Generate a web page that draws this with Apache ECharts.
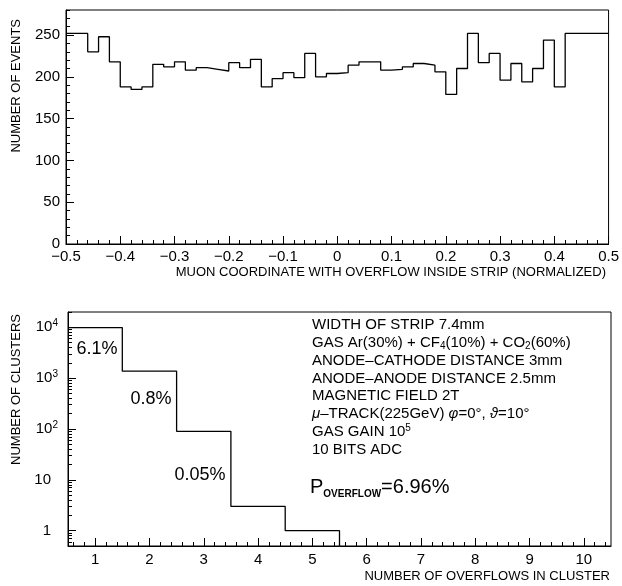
<!DOCTYPE html>
<html><head><meta charset="utf-8">
<script src="https://cdn.jsdelivr.net/npm/echarts@6/dist/echarts.min.js"></script>
<style>html,body{margin:0;padding:0;background:#fff}#c{width:622px;height:586px}</style>
</head><body><div id="c"></div>
<script>
// ---- Top panel: muon coordinate with overflow inside strip (bin width 0.02) ----
const topBinEdges = [-0.50,-0.48,-0.46,-0.44,-0.42,-0.40,-0.38,-0.36,-0.34,-0.32,
  -0.30,-0.28,-0.26,-0.24,-0.22,-0.20,-0.18,-0.16,-0.14,-0.12,
  -0.10,-0.08,-0.06,-0.04,-0.02,0.00,0.02,0.04,0.06,0.08,
  0.10,0.12,0.14,0.16,0.18,0.20,0.22,0.24,0.26,0.28,
  0.30,0.32,0.34,0.36,0.38,0.40,0.42,0.44,0.46,0.48];
const topCounts = [252,252,230,248,218,188,185,188,215,212,
  218,208,211,209,207,217,211,221,188,198,
  205,199,228,200,204,205,214,218,218,208,
  209,212,216,214,206,179,210,252,217,228,
  196,216,194,210,244,188,252,252,252,252];
const topXEnd = 0.5;
const topYTicks = [0,50,100,150,200,250];

// ---- Bottom panel: number of overflows in cluster ----
const bottomBinEdges = [0.5,1.5,2.5,3.5,4.5];
const bottomCounts = [9900,1370,90,3,1];
const bottomXEnd = 5.5;
const bottomXTicks = [1,2,3,4,5,6,7,8,9,10];
const bottomXMinorTicks = [0.6,0.8,1.2,1.4,1.6,1.8,2.2,2.4,2.6,2.8,3.2,3.4,3.6,3.8,4.2,4.4,4.6,4.8,
  5.2,5.4,5.6,5.8,6.2,6.4,6.6,6.8,7.2,7.4,7.6,7.8,8.2,8.4,8.6,8.8,9.2,9.4,9.6,9.8,10.2,10.4];
const bottomYTicks = [1,10,100,1000,10000];
const bottomYMinorTicks = [0.6,0.7,0.8,0.9,2,3,4,5,6,7,8,9,20,30,40,50,60,70,80,90,
  200,300,400,500,600,700,800,900,2000,3000,4000,5000,6000,7000,8000,9000,20000];
const percentLabels = ['6.1%','0.8%','0.05%'];
const infoLines = [
  'WIDTH OF STRIP 7.4mm',
  'GAS Ar(30%) + CF{sub|4}(10%) + CO{sub|2}(60%)',
  'ANODE\u2013CATHODE DISTANCE 3mm',
  'ANODE\u2013ANODE DISTANCE 2.5mm',
  'MAGNETIC FIELD 2T',
  '{it|\u03bc}\u2013TRACK(225GeV) {it|\u03c6}=0\u00b0, {it|\u03d1}=10\u00b0',
  'GAS GAIN 10{sup|5}',
  '10 BITS ADC'
];
const overflowText = '{P|P}{sub|OVERFLOW}{P|=6.96%}';
const topXTitle = 'MUON COORDINATE WITH OVERFLOW INSIDE STRIP (NORMALIZED)';
const bottomXTitle = 'NUMBER OF OVERFLOWS IN CLUSTER';
const topYTitle = 'NUMBER OF EVENTS';
const bottomYTitle = 'NUMBER OF CLUSTERS';

const FONT = '"Liberation Sans", Arial, Helvetica, sans-serif';
const BLACK = '#000';

const topData = topBinEdges.map((e, i) => [e, topCounts[i]]).concat([[topXEnd, topCounts[topCounts.length - 1]]]);
const bottomYMin = 0.5;
const bottomData = bottomBinEdges.map((e, i) => [e, bottomCounts[i]])
  .concat([[bottomXEnd, bottomCounts[bottomCounts.length - 1]], [bottomXEnd, bottomYMin]]);

function fmtX(v) {
  const r = Math.round(v * 10) / 10;
  if (r === 0) return '0';
  return (r < 0 ? '\u2212' : '') + Math.abs(r).toString();
}

const axisLineStyle = { color: BLACK, width: 1 };
const baseLabel = { color: BLACK, fontSize: 15, fontFamily: FONT };

const chart = echarts.init(document.getElementById('c'), null, { renderer: 'canvas' });

const graphics = [];
// axis titles (right-justified to the axis end, PAW style)
graphics.push({ type: 'text', right: 16, top: 266, style: { text: topXTitle, fontSize: 13, fontFamily: FONT, fill: BLACK } });
graphics.push({ type: 'text', right: 12, top: 570, style: { text: bottomXTitle, fontSize: 13, fontFamily: FONT, fill: BLACK } });
graphics.push({ type: 'text', x: 16, y: 19, rotation: Math.PI / 2,
  style: { text: topYTitle, fontSize: 13, fontFamily: FONT, fill: BLACK, align: 'right', verticalAlign: 'middle' } });
graphics.push({ type: 'text', x: 16, y: 314, rotation: Math.PI / 2,
  style: { text: bottomYTitle, fontSize: 13, fontFamily: FONT, fill: BLACK, align: 'right', verticalAlign: 'middle' } });
// percent labels
const pctPos = [[97, 349], [151, 399], [200, 475]];
percentLabels.forEach((t, i) => {
  graphics.push({ type: 'text', x: pctPos[i][0], y: pctPos[i][1],
    style: { text: t, fontSize: 18, fontFamily: FONT, fill: BLACK, align: 'center', verticalAlign: 'middle' } });
});
// info block
infoLines.forEach((t, i) => {
  graphics.push({ type: 'text', x: 312, y: 325 + i * 17.8,
    style: { text: t, fontSize: 15, fontFamily: FONT, fill: BLACK, verticalAlign: 'middle',
      rich: {
        sub: { fontSize: 10, fontFamily: FONT, verticalAlign: 'bottom', lineHeight: 17 },
        sup: { fontSize: 10, fontFamily: FONT, verticalAlign: 'top', lineHeight: 17 },
        it: { fontSize: 15, fontStyle: 'italic', fontFamily: FONT, lineHeight: 17 }
      } } });
});
graphics.push({ type: 'text', x: 310, y: 487,
  style: { text: overflowText, fill: BLACK, verticalAlign: 'middle',
    rich: {
      P: { fontSize: 20, fontFamily: FONT, lineHeight: 24, verticalAlign: 'middle' },
      sub: { fontSize: 10, fontWeight: 'bold', fontFamily: FONT, lineHeight: 24, verticalAlign: 'bottom' }
    } } });

const option = {
  animation: false,
  backgroundColor: '#fff',
  grid: [
    { left: 66, top: 10, width: 544, height: 234, show: true, borderColor: BLACK, borderWidth: 1, backgroundColor: 'transparent' },
    { left: 68, top: 312, width: 543, height: 234, show: true, borderColor: BLACK, borderWidth: 1, backgroundColor: 'transparent' }
  ],
  xAxis: [
    { gridIndex: 0, type: 'value', position: 'bottom', min: -0.5, max: 0.5, interval: 0.1,
      axisLine: { onZero: false, lineStyle: axisLineStyle },
      axisTick: { inside: true, length: 8, lineStyle: axisLineStyle },
      axisLabel: Object.assign({}, baseLabel, { margin: 5, formatter: fmtX }),
      splitLine: { show: false } },
    { gridIndex: 0, type: 'value', position: 'bottom', min: -0.5, max: 0.5, interval: 0.02,
      axisLine: { show: false, onZero: false },
      axisTick: { inside: true, length: 4, lineStyle: axisLineStyle },
      axisLabel: { show: false }, splitLine: { show: false } },
    { gridIndex: 1, type: 'value', position: 'bottom', min: 0.5, max: 10.5,
      axisLine: { onZero: false, lineStyle: axisLineStyle },
      axisTick: { inside: true, length: 8, lineStyle: axisLineStyle, customValues: bottomXTicks },
      axisLabel: Object.assign({}, baseLabel, { margin: 6, customValues: bottomXTicks }),
      splitLine: { show: false } },
    { gridIndex: 1, type: 'value', position: 'bottom', min: 0.5, max: 10.5,
      axisLine: { show: false, onZero: false },
      axisTick: { inside: true, length: 4, lineStyle: axisLineStyle, customValues: bottomXMinorTicks },
      axisLabel: { show: false }, splitLine: { show: false } }
  ],
  yAxis: [
    { gridIndex: 0, type: 'value', position: 'left', min: 0, max: 280, interval: 50,
      axisLine: { onZero: false, lineStyle: axisLineStyle },
      axisTick: { inside: true, length: 8, lineStyle: axisLineStyle, customValues: topYTicks },
      axisLabel: Object.assign({}, baseLabel, { margin: 6, customValues: topYTicks }),
      splitLine: { show: false } },
    { gridIndex: 0, type: 'value', position: 'left', min: 0, max: 280, interval: 10,
      axisLine: { show: false, onZero: false },
      axisTick: { inside: true, length: 4, lineStyle: axisLineStyle },
      axisLabel: { show: false }, splitLine: { show: false } },
    { gridIndex: 1, type: 'log', logBase: 10, position: 'left', min: 0.5, max: 20000,
      axisLine: { onZero: false, lineStyle: axisLineStyle },
      axisTick: { inside: true, length: 8, lineStyle: axisLineStyle, customValues: bottomYTicks },
      axisLabel: Object.assign({}, baseLabel, { margin: 10, customValues: bottomYTicks,
        formatter: function (v) {
          const e = Math.round(Math.log10(v));
          if (e <= 1) return '{b|' + (e === 0 ? '1' : '10') + '}{pad|}';
          return '{b|10}{s|' + e + '}';
        },
        rich: {
          b: { fontSize: 15, fontFamily: FONT, color: BLACK, lineHeight: 18 },
          s: { fontSize: 10, fontFamily: FONT, color: BLACK, verticalAlign: 'top', lineHeight: 10 },
          pad: { width: 7, fontSize: 10 }
        } }),
      splitLine: { show: false } },
    { gridIndex: 1, type: 'log', logBase: 10, position: 'left', min: 0.5, max: 20000,
      axisLine: { show: false, onZero: false },
      axisTick: { inside: true, length: 4, lineStyle: axisLineStyle, customValues: bottomYMinorTicks },
      axisLabel: { show: false }, splitLine: { show: false } }
  ],
  series: [
    { type: 'line', xAxisIndex: 0, yAxisIndex: 0, step: 'end', symbol: 'none', data: topData,
      lineStyle: { color: BLACK, width: 1.3 }, silent: true },
    { type: 'line', xAxisIndex: 2, yAxisIndex: 2, step: 'end', symbol: 'none', data: bottomData,
      lineStyle: { color: BLACK, width: 1.3 }, silent: true }
  ],
  graphic: graphics
};
chart.setOption(option);
</script></body></html>
